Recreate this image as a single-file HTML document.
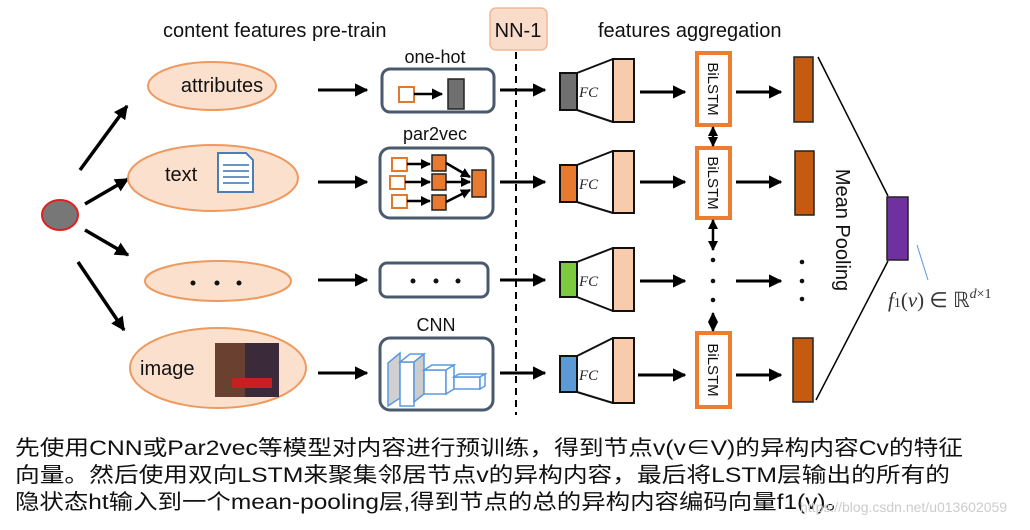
<!DOCTYPE html>
<html><head><meta charset="utf-8"><style>
body{margin:0;background:#fff;width:1030px;height:530px;overflow:hidden}
svg{display:block}
.t{font-family:"Liberation Sans","DejaVu Sans",sans-serif;fill:#111}
.cn{font-family:"Liberation Sans","Noto Sans CJK SC",sans-serif;font-size:21px;fill:#111}
</style></head><body>
<svg width="1030" height="530" viewBox="0 0 1030 530">
<defs>
<marker id="a" viewBox="0 0 10 10" refX="9" refY="5" markerWidth="4" markerHeight="4" orient="auto-start-reverse"><path d="M0,0L10,5L0,10z" fill="#000"/></marker>
<marker id="s" viewBox="0 0 10 10" refX="9" refY="5" markerWidth="4.5" markerHeight="4.5" orient="auto"><path d="M0,0L10,5L0,10z" fill="#000"/></marker>
</defs>
<text class="t" x="163" y="37" font-size="20">content features pre-train</text>
<rect x="490" y="8" width="57" height="42" rx="6" fill="#fadccb" stroke="#f0b898" stroke-width="1.5"/>
<text class="t" x="518" y="37" font-size="20" text-anchor="middle" fill="#333">NN-1</text>
<text class="t" x="598" y="37" font-size="20">features aggregation</text>
<line x1="516" y1="52" x2="516" y2="415" stroke="#000" stroke-width="2" stroke-dasharray="7,5"/>
<ellipse cx="60" cy="215" rx="18" ry="15" fill="#777" stroke="#e02020" stroke-width="2"/>
<g stroke="#000" stroke-width="3.5" marker-end="url(#a)">
<line x1="80" y1="170" x2="127" y2="106"/>
<line x1="85" y1="204" x2="128" y2="179"/>
<line x1="85" y1="230" x2="128" y2="255"/>
<line x1="78" y1="262" x2="124" y2="330"/>
</g>
<g fill="#fbe0ce" stroke="#ed9a5f" stroke-width="2">
<ellipse cx="212" cy="86" rx="64" ry="24"/>
<ellipse cx="213" cy="178" rx="85" ry="33"/>
<ellipse cx="218" cy="281" rx="73" ry="20"/>
<ellipse cx="218" cy="368" rx="88" ry="40"/>
</g>
<text class="t" x="222" y="92" font-size="20" text-anchor="middle">attributes</text>
<text class="t" x="165" y="181" font-size="20">text</text>
<path d="M218,153h28l7,7v32h-35z" fill="#fff" stroke="#4a7fb5" stroke-width="2"/>
<g stroke="#6d95c4" stroke-width="2"><line x1="223" y1="165" x2="249" y2="165"/><line x1="223" y1="171" x2="249" y2="171"/><line x1="223" y1="177" x2="249" y2="177"/><line x1="223" y1="183" x2="249" y2="183"/></g>
<g fill="#111"><circle cx="193" cy="283" r="2.5"/><circle cx="217" cy="283" r="2.5"/><circle cx="239" cy="283" r="2.5"/></g>
<text class="t" x="140" y="375" font-size="20">image</text>
<rect x="215" y="343" width="64" height="54" fill="#3a2a3a"/>
<rect x="215" y="343" width="30" height="54" fill="#6a4030"/>
<rect x="232" y="378" width="40" height="10" fill="#c82020"/>
<g stroke="#000" stroke-width="3" marker-end="url(#s)">
<line x1="318" y1="90" x2="367" y2="90"/><line x1="318" y1="182" x2="367" y2="182"/>
<line x1="318" y1="280" x2="367" y2="280"/><line x1="318" y1="373" x2="367" y2="373"/>
<line x1="500" y1="90" x2="545" y2="90"/><line x1="500" y1="182" x2="545" y2="182"/>
<line x1="500" y1="280" x2="545" y2="280"/><line x1="500" y1="373" x2="545" y2="373"/>
<line x1="640" y1="92" x2="685" y2="92"/><line x1="640" y1="182" x2="685" y2="182"/>
<line x1="640" y1="281" x2="685" y2="281"/><line x1="638" y1="375" x2="685" y2="375"/>
<line x1="736" y1="92" x2="781" y2="92"/><line x1="736" y1="182" x2="781" y2="182"/>
<line x1="736" y1="281" x2="781" y2="281"/><line x1="736" y1="375" x2="781" y2="375"/>
</g>
<text class="t" x="435" y="63" font-size="18" text-anchor="middle">one-hot</text>
<rect x="382" y="69" width="112" height="43" rx="8" fill="#fff" stroke="#4a5a6e" stroke-width="3"/>
<rect x="399" y="87" width="15" height="15" fill="#fff" stroke="#e07a30" stroke-width="2"/>
<line x1="414" y1="94" x2="442" y2="94" stroke="#000" stroke-width="2.5" marker-end="url(#s)"/>
<rect x="448" y="79" width="16" height="30" fill="#707070" stroke="#222" stroke-width="1.5"/>
<text class="t" x="435" y="140" font-size="18" text-anchor="middle">par2vec</text>
<rect x="380" y="148" width="113" height="70" rx="10" fill="#fff" stroke="#4a5a6e" stroke-width="3"/>
<g fill="#fff" stroke="#e07a30" stroke-width="2"><rect x="392" y="158" width="15" height="13"/><rect x="390" y="176" width="15" height="13"/><rect x="392" y="195" width="15" height="13"/></g>
<g fill="#e87a2f" stroke="#222" stroke-width="1.5"><rect x="432" y="155" width="14" height="16"/><rect x="432" y="174" width="14" height="16"/><rect x="432" y="195" width="14" height="15"/><rect x="472" y="170" width="14" height="27"/></g>
<g stroke="#000" stroke-width="2.5" marker-end="url(#a)"><line x1="407" y1="164" x2="430" y2="164"/><line x1="405" y1="182" x2="430" y2="182"/><line x1="407" y1="201" x2="430" y2="201"/><line x1="446" y1="163" x2="470" y2="177"/><line x1="446" y1="182" x2="470" y2="182"/><line x1="446" y1="202" x2="470" y2="190"/></g>
<rect x="380" y="263" width="108" height="34" rx="7" fill="#fff" stroke="#4a5a6e" stroke-width="3"/>
<g fill="#111"><circle cx="413" cy="281" r="2.5"/><circle cx="436" cy="281" r="2.5"/><circle cx="458" cy="281" r="2.5"/></g>
<text class="t" x="436" y="331" font-size="18" text-anchor="middle">CNN</text>
<rect x="380" y="338" width="113" height="72" rx="10" fill="#fff" stroke="#4a5a6e" stroke-width="3"/>
<g fill="#fff" stroke="#5a9ae0" stroke-width="1.5">
<path d="M388,363l12,-10v45l-12,8z" fill="#d0d0d0"/>
<rect x="400" y="362" width="14" height="44"/><path d="M400,362l10,-8h14l-10,8z"/><path d="M414,362l10,-8v40l-10,8z" fill="#ccc"/>
<rect x="424" y="370" width="22" height="24"/><path d="M424,370l8,-5h22l-8,5z"/><path d="M446,370l8,-5v24l-8,5z"/>
<rect x="454" y="377" width="26" height="12"/><path d="M454,377l5,-3h26l-5,3z"/><path d="M480,377l5,-3v12l-5,3z"/>
</g>
<g stroke="#111" stroke-width="2">
<rect x="560" y="73" width="17" height="37" fill="#707070"/><line x1="577" y1="73" x2="613" y2="59"/><line x1="577" y1="110" x2="613" y2="122"/><rect x="613" y="59" width="21" height="63" fill="#f8cbad"/>
<rect x="560" y="165" width="17" height="37" fill="#e87a2f"/><line x1="577" y1="165" x2="613" y2="151"/><line x1="577" y1="202" x2="613" y2="213"/><rect x="613" y="151" width="21" height="62" fill="#f8cbad"/>
<rect x="560" y="262" width="17" height="35" fill="#7ccb3e"/><line x1="577" y1="262" x2="613" y2="248"/><line x1="577" y1="297" x2="613" y2="311"/><rect x="613" y="248" width="21" height="63" fill="#f8cbad"/>
<rect x="560" y="356" width="17" height="36" fill="#5b9ad5"/><line x1="577" y1="356" x2="613" y2="338"/><line x1="577" y1="392" x2="613" y2="403"/><rect x="613" y="338" width="21" height="65" fill="#f8cbad"/>
</g>
<g font-family="Liberation Serif,serif" font-style="italic" font-size="15" fill="#222">
<text x="579" y="97">FC</text><text x="579" y="189">FC</text><text x="579" y="286">FC</text><text x="579" y="380">FC</text></g>
<g fill="#fff" stroke="#ed7d31" stroke-width="4">
<rect x="697" y="53" width="33" height="72"/><rect x="697" y="148" width="33" height="70"/><rect x="697" y="333" width="33" height="74"/></g>
<g class="t" font-size="15">
<text transform="translate(708,89) rotate(90)" text-anchor="middle">BiLSTM</text>
<text transform="translate(708,183) rotate(90)" text-anchor="middle">BiLSTM</text>
<text transform="translate(708,370) rotate(90)" text-anchor="middle">BiLSTM</text></g>
<g stroke="#000" stroke-width="2.5" marker-start="url(#a)" marker-end="url(#a)">
<line x1="713" y1="127" x2="713" y2="146"/><line x1="713" y1="220" x2="713" y2="250"/><line x1="713" y1="313" x2="713" y2="331"/></g>
<g fill="#111"><circle cx="713" cy="260" r="2.3"/><circle cx="713" cy="281" r="2.3"/><circle cx="713" cy="300" r="2.3"/>
<circle cx="802" cy="262" r="2.3"/><circle cx="802" cy="281" r="2.3"/><circle cx="802" cy="299" r="2.3"/></g>
<g fill="#c55a11" stroke="#222" stroke-width="1.5">
<rect x="794" y="57" width="19" height="65"/><rect x="795" y="151" width="19" height="64"/><rect x="793" y="338" width="20" height="64"/></g>
<line x1="818" y1="57" x2="888" y2="196" stroke="#000" stroke-width="1.5"/>
<line x1="816" y1="400" x2="888" y2="261" stroke="#000" stroke-width="1.5"/>
<rect x="887" y="197" width="21" height="63" fill="#7030a0" stroke="#222" stroke-width="1.5"/>
<text class="t" transform="translate(836,230) rotate(90)" font-size="20" text-anchor="middle">Mean Pooling</text>
<line x1="917" y1="245" x2="928" y2="280" stroke="#5b9ad5" stroke-width="1"/>
<text x="888" y="307" font-family="Liberation Serif,serif" font-size="21" fill="#333"><tspan font-style="italic">f</tspan><tspan font-size="14">1</tspan>(<tspan font-style="italic">v</tspan>) ∈ ℝ<tspan font-size="14" dy="-9" font-style="italic">d</tspan><tspan font-size="14">×1</tspan></text>
<text class="cn" x="15" y="455" textLength="948" lengthAdjust="spacingAndGlyphs">先使用CNN或Par2vec等模型对内容进行预训练，得到节点v(v∈V)的异构内容Cv的特征</text>
<text class="cn" x="15" y="482" textLength="935" lengthAdjust="spacingAndGlyphs">向量。然后使用双向LSTM来聚集邻居节点v的异构内容，最后将LSTM层输出的所有的</text>
<text class="cn" x="15" y="509" textLength="835" lengthAdjust="spacingAndGlyphs">隐状态ht输入到一个mean-pooling层,得到节点的总的异构内容编码向量f1(v)。</text>
<text x="800" y="512" font-family="Liberation Sans,sans-serif" font-size="14" fill="#ccc">https://blog.csdn.net/u013602059</text>
</svg>
</body></html>
